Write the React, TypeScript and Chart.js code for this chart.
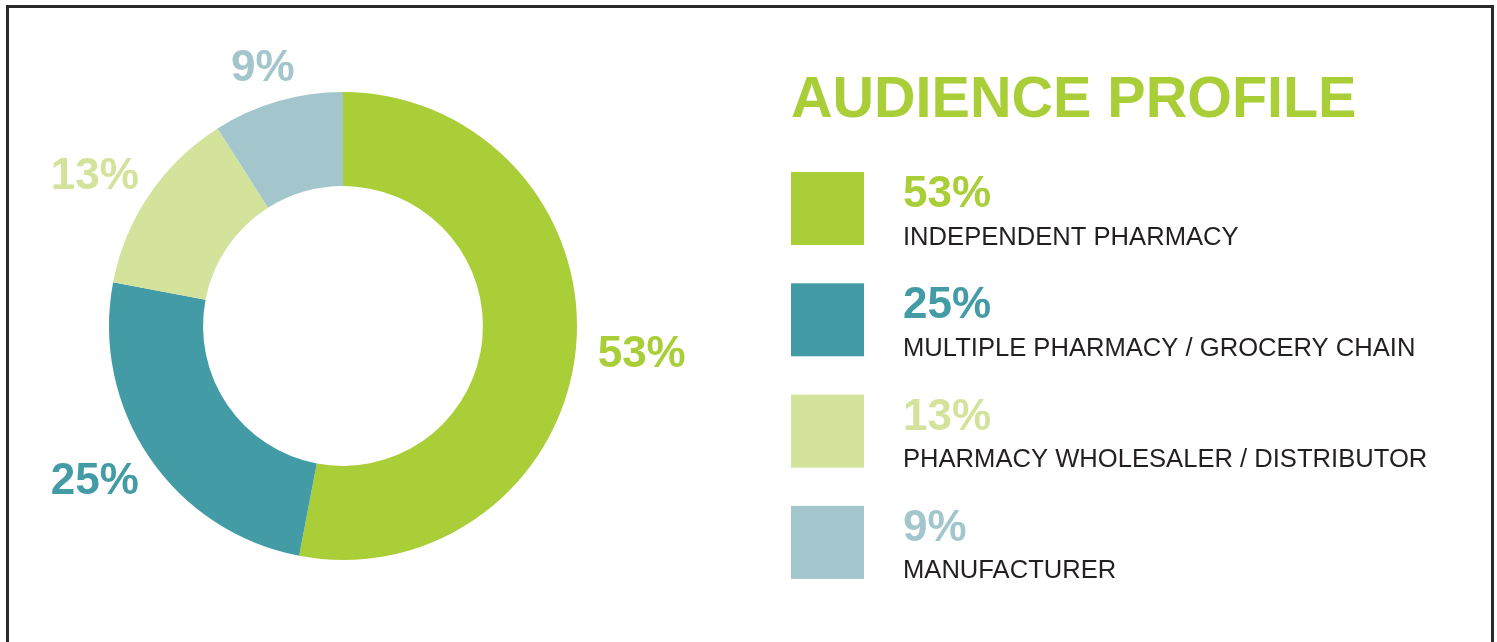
import React, { useEffect, useRef } from "react";
import { Chart, registerables } from "chart.js";

Chart.register(...registerables);

// ---- data ----
const title = "AUDIENCE PROFILE";
const categories = [
  "INDEPENDENT PHARMACY",
  "MULTIPLE PHARMACY / GROCERY CHAIN",
  "PHARMACY WHOLESALER / DISTRIBUTOR",
  "MANUFACTURER",
];
const shares = [53, 25, 13, 9];
const colors = ["#A9CE38", "#439CA5", "#D3E39C", "#A3C6CC"];

// ---- style ----
const W = 1497;
const H = 642;
const FONT = "'Liberation Sans', Arial, Helvetica, sans-serif";
const LABEL_SIZE = 44;
const TEXT_DARK = "#231F20";

const outerLabels = {
  id: "outerLabels",
  afterDatasetsDraw(chart: any) {
    const ctx = chart.ctx as CanvasRenderingContext2D;
    const meta = chart.getDatasetMeta(0);
    ctx.save();
    ctx.font = `bold ${LABEL_SIZE}px ${FONT}`;
    ctx.textAlign = "center";
    ctx.textBaseline = "alphabetic";
    const capH = LABEL_SIZE * 0.716;
    meta.data.forEach((arc: any, i: number) => {
      const p = arc.getProps(["x", "y", "startAngle", "endAngle", "outerRadius"], true);
      const a = (p.startAngle + p.endAngle) / 2;
      const dx = Math.cos(a);
      const dy = Math.sin(a);
      const text = `${shares[i]}%`;
      const w = ctx.measureText(text).width;
      const r = p.outerRadius + 22;
      const cx = p.x + dx * r + (dx * w) / 2;
      const cy = p.y + dy * r + (dy * capH) / 2;
      ctx.fillStyle = colors[i];
      ctx.fillText(text, cx, cy + capH / 2);
    });
    ctx.restore();
  },
};

const sideLegend = {
  id: "sideLegend",
  afterDraw(chart: any) {
    const ctx = chart.ctx as CanvasRenderingContext2D;
    ctx.save();
    ctx.textAlign = "left";
    ctx.textBaseline = "alphabetic";
    // title
    ctx.font = `bold 57.5px ${FONT}`;
    ctx.fillStyle = colors[0];
    ctx.fillText(title, 791, 117);
    // rows
    const left = 791;
    const size = 73;
    const top0 = 172;
    const step = 111.3;
    categories.forEach((cat, i) => {
      const top = top0 + i * step;
      ctx.fillStyle = colors[i];
      ctx.fillRect(left, top, size, size);
      ctx.font = `bold ${LABEL_SIZE}px ${FONT}`;
      ctx.fillText(`${shares[i]}%`, 903, top + 35);
      ctx.font = `25.6px ${FONT}`;
      ctx.fillStyle = TEXT_DARK;
      ctx.fillText(cat, 903, top + 72.5);
    });
    ctx.restore();
  },
};

export default function App() {
  const ref = useRef<HTMLCanvasElement | null>(null);

  useEffect(() => {
    if (!ref.current) return;
    const chart = new Chart(ref.current, {
      type: "doughnut",
      data: {
        labels: categories,
        datasets: [
          {
            data: shares,
            backgroundColor: colors,
            borderWidth: 0,
            hoverOffset: 0,
            offset: 0,
          },
        ],
      },
      options: {
        responsive: false,
        maintainAspectRatio: false,
        animation: false,
        devicePixelRatio: 1,
        cutout: "59.8%",
        layout: { padding: { left: 109, top: 92, right: W - 577, bottom: H - 560 } },
        plugins: {
          legend: { display: false },
          tooltip: { enabled: false },
        },
        events: [],
      },
      plugins: [outerLabels, sideLegend],
    } as any);
    return () => chart.destroy();
  }, []);

  return (
    <div
      style={{
        position: "fixed",
        left: 0,
        top: 0,
        width: W,
        height: H,
        overflow: "hidden",
        background: "#ffffff",
      }}
    >
      <div
        style={{
          position: "absolute",
          left: 6,
          top: 5,
          width: 1488,
          height: 700,
          boxSizing: "border-box",
          borderTop: "3px solid #2B2A2A",
          borderLeft: "3px solid #2B2A2A",
          borderRight: "3px solid #2B2A2A",
        }}
      />
      <canvas
        ref={ref}
        width={W}
        height={H}
        style={{ position: "absolute", left: 0, top: 0, width: W, height: H, display: "block" }}
      />
    </div>
  );
}
